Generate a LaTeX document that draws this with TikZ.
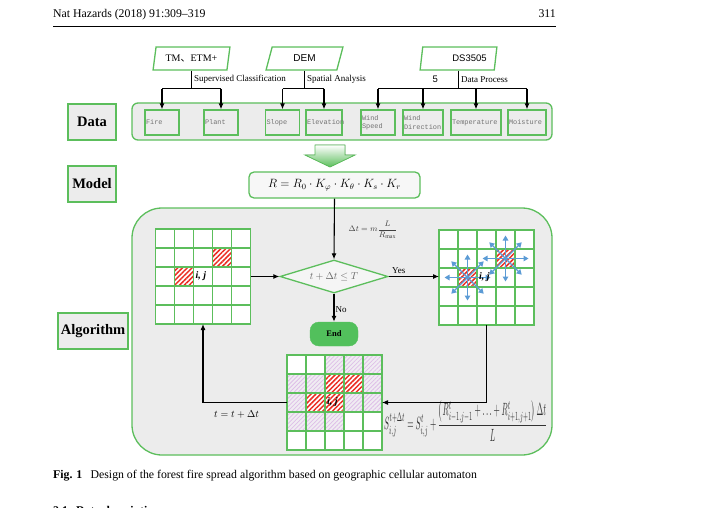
\documentclass[tikz,border=0pt]{standalone}
\usepackage{amsmath}
\usepackage{graphicx}
\usepackage{fontspec}
\setmainfont{Liberation Serif}
\newfontfamily\sansf{Liberation Sans}
\newfontfamily\monof{Liberation Mono}
\newfontfamily\cjk{Noto Sans CJK SC}
\usetikzlibrary{calc,shapes.geometric,patterns.meta,arrows.meta}

\definecolor{lgreen}{RGB}{92,190,92}
\definecolor{panel}{RGB}{236,236,236}
\definecolor{firered}{RGB}{235,45,35}
\definecolor{burnt}{RGB}{222,190,232}
\definecolor{burntbg}{RGB}{240,236,242}
\definecolor{spreadblue}{RGB}{91,155,213}
\definecolor{endfill}{RGB}{82,192,92}

% lower left corner of cell (col, row) in a grid node
\newcommand{\cellat}[3]{($(#1.north west)+(#2*19,#3*19)$)}

\begin{document}
\begin{tikzpicture}[x=1pt, y=-1pt,
  frame/.style = {draw=lgreen, line width=1.3pt, fill=panel},
  tag/.style = {frame, minimum width=#1, minimum height=36pt, inner sep=0pt,
    font=\fontsize{14.5}{16}\selectfont\bfseries},
  src/.style = {draw=lgreen, line width=1.3pt, fill=white, trapezium,
    trapezium left angle=73, trapezium right angle=107, trapezium stretches=true,
    minimum width=77pt, minimum height=23pt, inner sep=0pt},
  databox/.style = {draw=lgreen, line width=1.3pt, minimum width=#1, text width=#1-2pt,
    minimum height=25pt, inner xsep=1pt, inner ysep=0pt, align=left,
    font=\monof\fontsize{6.9}{8.2}\selectfont, text=black!55},
  link/.style = {line width=1.1pt},
  arr/.style = {link, -{Latex[length=6pt,width=5pt]}},
  lbl/.style = {font=\fontsize{9}{10}\selectfont, inner sep=2pt},
  gridbox/.style = {minimum size=95pt, inner sep=0pt, outer sep=0pt, fill=white},
  cellbox/.style = {draw=lgreen, line width=1.3pt},
  firecell/.style = {fill=white, postaction={pattern={Lines[angle=45,distance=3.4pt,line width=1.5pt]}, pattern color=firered}},
  burntcell/.style = {fill=burntbg, postaction={pattern={Lines[angle=45,distance=3pt,line width=0.8pt]}, pattern color=burnt}},
  spreadarr/.style = {draw=spreadblue, line width=1.4pt, -{Triangle[length=5pt,width=5.5pt]}},
  ij/.style = {font=\fontsize{10}{11}\selectfont\bfseries\itshape, inner sep=0pt}]
  \useasboundingbox (0,0) rectangle (723,508);

  % page header
  \node[anchor=base west, font=\fontsize{11.8}{13}\selectfont, inner sep=0pt] (head) at (53,18) {Nat Hazards (2018) 91:309--319};
  \node[anchor=base east, font=\fontsize{11.8}{13}\selectfont, inner sep=0pt] (page) at (556,18) {311};
  \draw[line width=0.6pt] (53,26) -- (556,26);

  % sources
  \node[src, font=\fontsize{10}{11}\selectfont] (tm) at (191.5,58.5) {TM{\cjk 、}ETM+};
  \node[src, font=\sansf\fontsize{10}{11}\selectfont] (dem) at (304.5,58.5) {DEM};
  \node[src, font=\sansf\fontsize{9.5}{11}\selectfont] (ds) at (458.5,58.5) {\hspace*{22pt}DS3505};

  % data layer
  \node[frame, rounded corners=6pt, minimum width=420pt, minimum height=37pt] (datapanel) at (342,121.5) {};
  \node[tag=48pt] (data) at (92,122) {Data};
  \node[databox=34pt] (fire) at (162,122.5) {Fire};
  \node[databox=34pt] (plant) at (221,122.5) {Plant};
  \node[databox=34pt] (slope) at (282.5,122.5) {Slope};
  \node[databox=36pt] (elev) at (324,122.5) {Elevation};
  \node[databox=34pt] (wspeed) at (378,122.5) {Wind\\Speed};
  \node[databox=40pt] (wdir) at (423,122.5) {Wind\\Direction};
  \node[databox=50pt] (temp) at (476,122.5) {Temperature};
  \node[databox=38pt] (moist) at (527,122.5) {Moisture};

  \draw[link] (tm.south) -- node[lbl, right] {Supervised Classification} ++(0,18) coordinate (tmj);
  \draw[link] (fire.north |- tmj) -- (plant.north |- tmj);
  \foreach \d in {fire,plant} \draw[arr] (\d.north |- tmj) -- (\d.north);
  \draw[link] (dem.south) -- node[lbl, right] {Spatial Analysis} ++(0,18) coordinate (demj);
  \draw[link] (slope.north |- demj) -- (elev.north |- demj);
  \foreach \d in {slope,elev} \draw[arr] (\d.north |- demj) -- (\d.north);
  \draw[link] (ds.south) -- node[lbl, right] {Data Process} node[lbl, left=18pt, font=\sansf\fontsize{9.5}{11}\selectfont] {5} ++(0,18) coordinate (dsj);
  \draw[link] (wspeed.north |- dsj) -- (moist.north |- dsj);
  \foreach \d in {wspeed,wdir,temp,moist} \draw[arr] (\d.north |- dsj) -- (\d.north);

  % model layer
  \coordinate (flow) at (330,145);
  \filldraw[draw=lgreen, line width=0.8pt, top color=white, bottom color=lgreen]
    (flow) ++(-15,0) -- ++(30,0) -- ++(0,10) -- ++(10,0) -- ++(-25,12) -- ++(-25,-12) -- ++(10,0) -- cycle;
  \node[tag=48pt] (model) at (92,184) {Model};
  \node[frame, fill=white!60!panel, rounded corners=5pt, minimum width=171pt, minimum height=26pt,
    font=\fontsize{12}{13}\selectfont] (rate) at (334.5,185)
    {$R = R_0\cdot K_\varphi\cdot K_\theta\cdot K_s\cdot K_r$};

  % algorithm layer
  \node[frame, rounded corners=30pt, minimum width=420pt, minimum height=247pt] (algpanel) at (342,331.5) {};
  \node[tag=70pt] (alg) at (93,331) {Algorithm};

  \node[gridbox] (gridA) at (203,276.5) {};
  \node[gridbox] (gridB) at (486.5,277.5) {};
  \node[gridbox] (gridC) at (334.5,402.5) {};

  \path[firecell] \cellat{gridA}{1}{2} rectangle ++(19,19);
  \path[firecell] \cellat{gridA}{3}{1} rectangle ++(19,19);
  \path[firecell] \cellat{gridB}{1}{2} rectangle ++(19,19);
  \path[firecell] \cellat{gridB}{3}{1} rectangle ++(19,19);
  \foreach \c/\r in {2/0,3/0,4/0,0/1,1/1,4/1,0/2,3/2,4/2,0/3,1/3,2/3}
    \path[burntcell] \cellat{gridC}{\c}{\r} rectangle ++(19,19);
  \foreach \c/\r in {2/1,3/1,1/2,2/2}
    \path[firecell] \cellat{gridC}{\c}{\r} rectangle ++(19,19);

  \foreach \g in {gridA,gridB,gridC}
    \foreach \c in {0,...,4}
      \foreach \r in {0,...,4}
        \draw[cellbox] \cellat{\g}{\c}{\r} rectangle ++(19,19);

  \coordinate (burnA) at ($(gridB.north west)+(28.5,47.5)$);
  \coordinate (burnB) at ($(gridB.north west)+(66.5,28.5)$);
  \foreach \s in {burnA,burnB}
    \foreach \a in {0,45,...,315}
      \draw[spreadarr] (\s) -- ++(\a:23);

  \node[ij, anchor=west] (ijA) at ($(gridA.north west)+(40,47)$) {i, j};
  \node[ij, anchor=west] (ijB) at ($(gridB.north west)+(40,47)$) {i, j};
  \node[ij, anchor=west] (ijC) at ($(gridC.north west)+(40,47)$) {i, j};

  \node[diamond, draw=lgreen, line width=1.3pt, fill=white!50!panel, minimum width=108pt,
    minimum height=33pt, aspect=3.3, inner sep=0pt, text=black!60,
    font=\fontsize{10}{11}\selectfont] (cond) at (334,276.5) {$t+\Delta t\leq T$};
  \node[fill=endfill, draw=endfill, rounded corners=9pt, minimum width=48pt, minimum height=24pt,
    inner sep=0pt, font=\fontsize{8.5}{10}\selectfont\bfseries] (end) at (334,334) {End};

  \node[font=\fontsize{8}{9}\selectfont, text=black!75] (dtlabel) at (373,230)
    {$\Delta t = m\dfrac{L}{R_{\max}}$};
  \node[anchor=west, text=black!80, inner sep=0pt] (update) at (384,421)
    {\resizebox{163pt}{29pt}{$S_{i,j}^{t+\Delta t} = S_{i,j}^{t} + \dfrac{\left(R_{i-1,j-1}^{t}+\ldots+R_{i+1,j+1}^{t}\right)\Delta t}{L}$}};

  \draw[arr] (rate.south) -- (cond.north);
  \draw[arr] (gridA.east) -- (cond.west);
  \draw[arr] (cond.east) -- node[lbl, above, pos=0.2] {Yes} (cond.east -| gridB.west);
  \draw[arr] (cond.south) -- node[lbl, right, pos=0.55, inner sep=1pt] {No} (end.north);
  \draw[arr] (gridB.south) |- (gridC.east);
  \draw[arr] (gridC.west) -| node[below=4pt, pos=0.3, font=\fontsize{10}{11}\selectfont] {$t = t + \Delta t$} (gridA.south);

  % caption
  \node[anchor=base west, font=\fontsize{11.8}{13}\selectfont, inner sep=0pt] (caption) at (53,478)
    {\textbf{Fig. 1}\hspace{0.7em}Design of the forest fire spread algorithm based on geographic cellular automaton};
  \node[anchor=base west, font=\fontsize{11.8}{13}\selectfont\bfseries, inner sep=0pt] (sect) at (53,514.5)
    {2.1\hspace{0.7em}Data description};
\end{tikzpicture}
\end{document}
